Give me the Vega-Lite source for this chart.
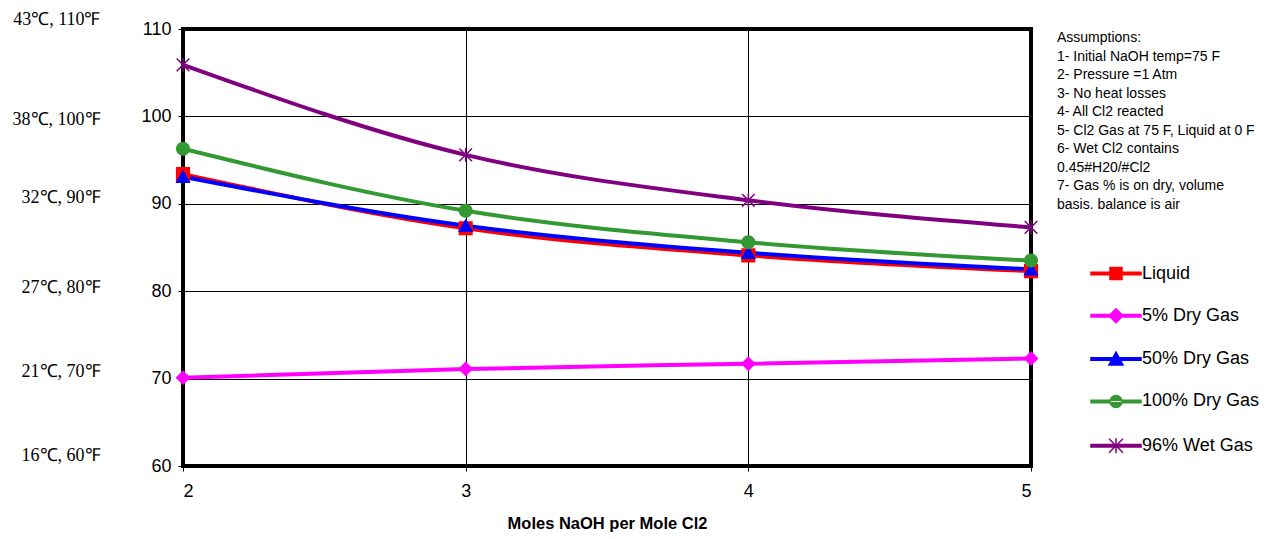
{
  "$schema": "https://vega.github.io/schema/vega-lite/v6.json",
  "width": 848,
  "height": 437,
  "autosize": {"type": "none"},
  "padding": {"left": 183, "top": 29, "right": 242, "bottom": 73},
  "background": "white",
  "config": {
    "font": "Liberation Sans",
    "view": {"stroke": "black", "strokeWidth": 4},
    "legend": {
      "orient": "none", "legendX": 874, "legendY": 2, "padding": 0,
      "titleFontSize": 14, "titleFontWeight": "normal", "titleColor": "black",
      "titleLineHeight": 18.5, "titlePadding": 53, "titleLimit": 400,
      "labelFontSize": 18, "labelColor": "black", "labelOffset": 67, "labelLimit": 300,
      "symbolSize": 100, "rowPadding": 23.3
    }
  },
  "data": {
    "values": [
      {"moles": 2, "temp": 93.4, "series": "Liquid"},
      {"moles": 3, "temp": 87.2, "series": "Liquid"},
      {"moles": 4, "temp": 84.1, "series": "Liquid"},
      {"moles": 5, "temp": 82.3, "series": "Liquid"},
      {"moles": 2, "temp": 70.1, "series": "5% Dry Gas"},
      {"moles": 3, "temp": 71.1, "series": "5% Dry Gas"},
      {"moles": 4, "temp": 71.7, "series": "5% Dry Gas"},
      {"moles": 5, "temp": 72.3, "series": "5% Dry Gas"},
      {"moles": 2, "temp": 93.1, "series": "50% Dry Gas"},
      {"moles": 3, "temp": 87.5, "series": "50% Dry Gas"},
      {"moles": 4, "temp": 84.4, "series": "50% Dry Gas"},
      {"moles": 5, "temp": 82.5, "series": "50% Dry Gas"},
      {"moles": 2, "temp": 96.3, "series": "100% Dry Gas"},
      {"moles": 3, "temp": 89.2, "series": "100% Dry Gas"},
      {"moles": 4, "temp": 85.6, "series": "100% Dry Gas"},
      {"moles": 5, "temp": 83.5, "series": "100% Dry Gas"},
      {"moles": 2, "temp": 105.9, "series": "96% Wet Gas"},
      {"moles": 3, "temp": 95.6, "series": "96% Wet Gas"},
      {"moles": 4, "temp": 90.4, "series": "96% Wet Gas"},
      {"moles": 5, "temp": 87.3, "series": "96% Wet Gas"}
    ]
  },
  "resolve": {"axis": {"y": "independent"}},
  "layer": [
    {
      "mark": {"type": "line", "interpolate": "monotone", "strokeWidth": 4},
      "encoding": {
        "x": {
          "field": "moles", "type": "quantitative",
          "scale": {"domain": [2, 5], "nice": false, "zero": false},
          "axis": {
            "values": [2, 3, 4, 5], "format": "d",
            "grid": true, "gridColor": "black", "gridWidth": 1, "gridOpacity": 1,
            "domain": false, "ticks": true, "tickSize": 5, "tickColor": "black", "tickWidth": 1,
            "labelFontSize": 18, "labelColor": "black", "labelPadding": 11,
            "title": "Moles NaOH per Mole Cl2", "titleFontSize": 16.5, "titleFontWeight": "bold",
            "titleColor": "black", "titlePadding": 15
          }
        },
        "y": {
          "field": "temp", "type": "quantitative",
          "scale": {"domain": [60, 110], "nice": false, "zero": false},
          "axis": {
            "values": [60, 70, 80, 90, 100, 110],
            "grid": true, "gridColor": "black", "gridWidth": 1, "gridOpacity": 1,
            "domain": false, "ticks": true, "tickSize": 5, "tickColor": "black", "tickWidth": 1,
            "labelFontSize": 18, "labelColor": "black", "labelPadding": 7,
            "title": null
          }
        },
        "color": {
          "field": "series", "type": "nominal",
          "scale": {
            "domain": ["Liquid", "5% Dry Gas", "50% Dry Gas", "100% Dry Gas", "96% Wet Gas"],
            "range": ["#FF0000", "#FF00FF", "#0000FF", "#339933", "#800080"]
          },
          "legend": {
            "title": ["Assumptions:", "1- Initial NaOH temp=75 F", "2- Pressure =1 Atm", "3- No heat losses", "4- All Cl2 reacted", "5- Cl2 Gas at 75 F, Liquid at 0 F", "6- Wet Cl2 contains", "0.45#H20/#Cl2", "7- Gas % is on dry, volume", "basis. balance is air"],
            "encoding": {
              "symbols": {
                "shape": {"value": {"expr": "datum.value === 'Liquid' ? 'M5,-0.25H15V0.25H5ZM8.8,-1.2H11.2V1.2H8.8Z' : datum.value === '5% Dry Gas' ? 'M5,-0.25H15V0.25H5ZM10,-1.4L11.4,0L10,1.4L8.6,0Z' : datum.value === '50% Dry Gas' ? 'M5,-0.25H15V0.25H5ZM10,-1.4L11.4,1.2H8.6Z' : datum.value === '100% Dry Gas' ? 'M5,-0.25H15V0.25H5ZM8.8,0A1.2,1.2 0 1,0 11.2,0A1.2,1.2 0 1,0 8.8,0Z' : 'M5,-0.25H15V0.25H5ZM8.6,-1.4L11.4,1.4M8.6,1.4L11.4,-1.4M10,-1.5V1.5'"}},
                "size": {"value": 100},
                "fill": {"value": {"expr": "scale('color', datum.value)"}},
                "stroke": {"value": {"expr": "scale('color', datum.value)"}},
                "strokeWidth": {"value": 1.5},
                "opacity": {"value": 1}
              }
            }
          }
        }
      }
    },
    {
      "mark": {"type": "point", "filled": true, "opacity": 1, "size": 160, "strokeWidth": 1.5},
      "encoding": {
        "x": {"field": "moles", "type": "quantitative"},
        "y": {"field": "temp", "type": "quantitative", "axis": null},
        "color": {
          "field": "series", "type": "nominal",
          "legend": {
            "title": ["Assumptions:", "1- Initial NaOH temp=75 F", "2- Pressure =1 Atm", "3- No heat losses", "4- All Cl2 reacted", "5- Cl2 Gas at 75 F, Liquid at 0 F", "6- Wet Cl2 contains", "0.45#H20/#Cl2", "7- Gas % is on dry, volume", "basis. balance is air"],
            "encoding": {
              "symbols": {
                "shape": {"value": {"expr": "datum.value === 'Liquid' ? 'M5,-0.25H15V0.25H5ZM8.8,-1.2H11.2V1.2H8.8Z' : datum.value === '5% Dry Gas' ? 'M5,-0.25H15V0.25H5ZM10,-1.4L11.4,0L10,1.4L8.6,0Z' : datum.value === '50% Dry Gas' ? 'M5,-0.25H15V0.25H5ZM10,-1.4L11.4,1.2H8.6Z' : datum.value === '100% Dry Gas' ? 'M5,-0.25H15V0.25H5ZM8.8,0A1.2,1.2 0 1,0 11.2,0A1.2,1.2 0 1,0 8.8,0Z' : 'M5,-0.25H15V0.25H5ZM8.6,-1.4L11.4,1.4M8.6,1.4L11.4,-1.4M10,-1.5V1.5'"}},
                "size": {"value": 100},
                "fill": {"value": {"expr": "scale('color', datum.value)"}},
                "stroke": {"value": {"expr": "scale('color', datum.value)"}},
                "strokeWidth": {"value": 1.5},
                "opacity": {"value": 1}
              }
            }
          }
        },
        "stroke": {
          "field": "series", "type": "nominal", "legend": null,
          "scale": {
            "domain": ["Liquid", "5% Dry Gas", "50% Dry Gas", "100% Dry Gas", "96% Wet Gas"],
            "range": ["#FF0000", "#FF00FF", "#0000FF", "#339933", "#800080"]
          }
        },
        "shape": {
          "condition": [
            {"test": "datum.series === 'Liquid'", "value": "square"},
            {"test": "datum.series === '5% Dry Gas'", "value": "diamond"},
            {"test": "datum.series === '50% Dry Gas'", "value": "triangle-up"},
            {"test": "datum.series === '100% Dry Gas'", "value": "circle"}
          ],
          "value": "M-1,-1L1,1M-1,1L1,-1M0,-1.1V1.1"
        }
      }
    },
    {
      "mark": {"type": "point", "opacity": 0},
      "encoding": {
        "x": {"field": "moles", "type": "quantitative"},
        "y": {
          "field": "temp", "type": "quantitative",
          "axis": {
            "orient": "left", "offset": 83,
            "values": [60, 70, 80, 90, 100, 110],
            "grid": false, "domain": false, "ticks": false,
            "labelPadding": 0, "labelFont": "Liberation Serif", "labelFontSize": 18, "labelColor": "black",
            "labelExpr": "datum.value == 110 ? '43℃, 110℉' : datum.value == 100 ? '38℃, 100℉' : datum.value == 90 ? '32℃, 90℉' : datum.value == 80 ? '27℃, 80℉' : datum.value == 70 ? '21℃, 70℉' : '16℃, 60℉'",
            "title": null,
            "encoding": {
              "labels": {
                "dy": {"value": {"expr": "datum.value == 110 ? -10 : datum.value == 100 ? 3 : datum.value == 90 ? -6 : datum.value == 80 ? -4 : datum.value == 70 ? -7 : -11"}}
              }
            }
          }
        }
      }
    }
  ]
}
